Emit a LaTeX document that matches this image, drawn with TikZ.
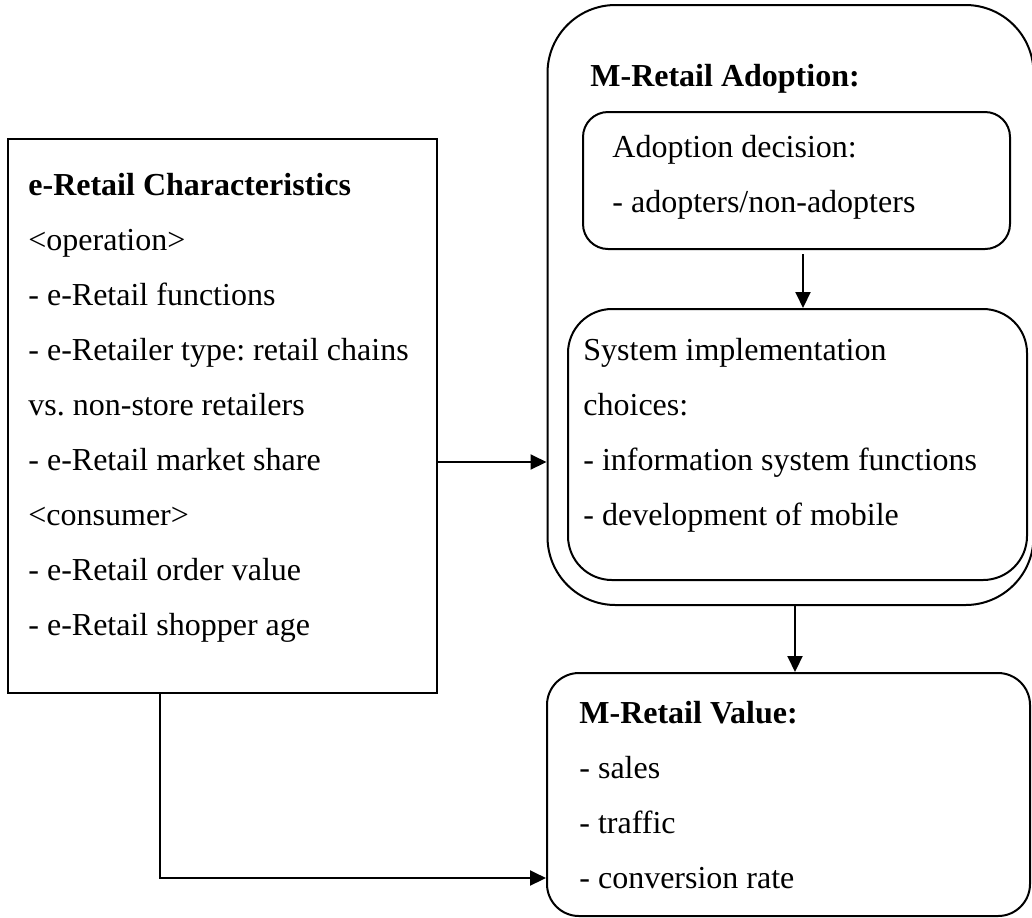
\documentclass[tikz,border=0pt]{standalone}
\usepackage{fontspec}
\setmainfont{Liberation Serif}
\usetikzlibrary{arrows.meta}
\frenchspacing
\begin{document}
\begin{tikzpicture}[x=0.5pt,y=-0.5pt,
  frame/.style={draw, line width=1pt, inner sep=0pt, rectangle},
  txt/.style={anchor=base west, inner sep=0pt, font=\fontsize{16}{19}\selectfont},
  hd/.style={txt, font=\fontsize{16}{19}\selectfont\bfseries},
  arr/.style={line width=1pt, -{Triangle[length=8pt,width=7.5pt]}}]
\useasboundingbox (0,0) rectangle (1032,917);

% boxes
\node[frame, minimum width=214.5pt, minimum height=277pt] (lbox) at (222.5,416) {};
\node[frame, rounded corners=34pt, minimum width=243pt, minimum height=300pt] (outer) at (790.5,305) {};
\node[frame, rounded corners=12.5pt, minimum width=213.5pt, minimum height=68.5pt] (box1) at (796.5,180.5) {};
\node[frame, rounded corners=22pt, minimum width=229.5pt, minimum height=135.5pt] (box2) at (797.5,444.5) {};
\node[frame, rounded corners=16pt, minimum width=241.5pt, minimum height=121.5pt] (vbox) at (788.5,794.5) {};

% e-Retail characteristics
\node[hd]  (l0) at (28,195) {e-Retail Characteristics};
\node[txt] (l1) at (28,250) {<operation>};
\node[txt] (l2) at (28,305) {- e-Retail functions};
\node[txt] (l3) at (28,360) {- e-Retailer type: retail chains};
\node[txt] (l4) at (28,415) {vs. non-store retailers};
\node[txt] (l5) at (28,470) {- e-Retail market share};
\node[txt] (l6) at (28,525) {<consumer>};
\node[txt] (l7) at (28,580) {- e-Retail order value};
\node[txt] (l8) at (28,635) {- e-Retail shopper age};

% M-Retail adoption
\node[hd]  (a0) at (590,86) {M-Retail Adoption:};
\node[txt] (a1) at (612,157) {Adoption decision:};
\node[txt] (a2) at (612,212) {- adopters/non-adopters};
\node[txt] (s1) at (583,360) {System implementation};
\node[txt] (s2) at (583,415) {choices:};
\node[txt] (s3) at (583,470) {- information system functions};
\node[txt] (s4) at (583,525) {- development of mobile};

% M-Retail value
\node[hd]  (v0) at (579,723) {M-Retail Value:};
\node[txt] (v1) at (579,778) {- sales};
\node[txt] (v2) at (579,833) {- traffic};
\node[txt] (v3) at (579,888) {- conversion rate};

% connectors
\coordinate (ya) at (0,462);
\coordinate (xa) at (803,0);
\coordinate (xb) at (795,0);
\coordinate (xc) at (160,0);
\coordinate (yc) at (0,878);
\draw[arr] (lbox.east |- ya) -- (outer.west |- ya);
\draw[arr, shorten <=2pt] (box1.south -| xa) -- (box2.north -| xa);
\draw[arr] (outer.south -| xb) -- (vbox.north -| xb);
\draw[arr] (lbox.south -| xc) |- (vbox.west |- yc);
\end{tikzpicture}
\end{document}
